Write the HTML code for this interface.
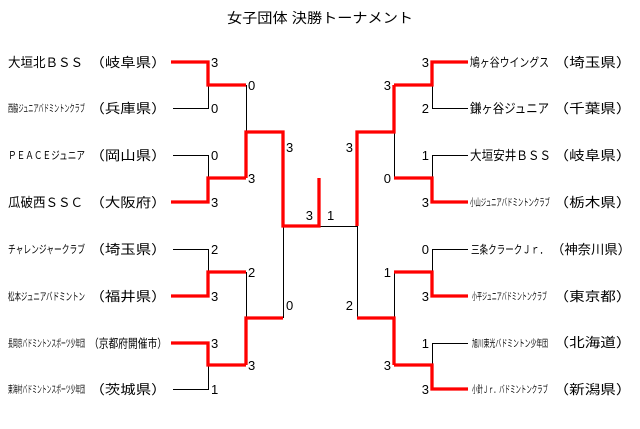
<!DOCTYPE html>
<html><head><meta charset="utf-8"><style>
html,body{margin:0;padding:0;background:#fff;}
svg{display:block;}
text{font-family:"Liberation Sans","Noto Sans CJK JP",sans-serif;fill:#000;}
.s{font-size:13px;}
</style></head><body>
<svg width="640" height="429" viewBox="0 0 640 429" xmlns="http://www.w3.org/2000/svg">
<text x="227" y="23" font-size="14" textLength="186" lengthAdjust="spacingAndGlyphs">女子団体 決勝トーナメント</text>

<!-- black lines -->
<g stroke="#000" stroke-width="1" fill="none">
<polyline points="173,108.5 208.5,108.5 208.5,85"/>
<polyline points="173,155.5 208.5,155.5 208.5,178"/>
<polyline points="246.5,85 246.5,132"/>
<polyline points="173,249.5 208.5,249.5 208.5,272"/>
<polyline points="173,389.5 208.5,389.5 208.5,365"/>
<polyline points="246.5,272 246.5,318"/>
<polyline points="283.5,226 283.5,318"/>
<polyline points="468,108.5 432.5,108.5 432.5,85"/>
<polyline points="468,155.5 432.5,155.5 432.5,178"/>
<polyline points="394.5,132 394.5,178"/>
<polyline points="468,249.5 432.5,249.5 432.5,272"/>
<polyline points="468,343.5 432.5,343.5 432.5,365"/>
<polyline points="394.5,272 394.5,318"/>
<polyline points="357.5,226 357.5,318"/>
<polyline points="319,226.5 357.5,226.5"/>
</g>

<!-- red lines -->
<g stroke="#ff0000" stroke-width="3.3" fill="none" stroke-linejoin="miter" stroke-linecap="butt">
<polyline points="171,62 208,62 208,85 246,85"/>
<polyline points="171,202 208,202 208,178 246,178"/>
<polyline points="246,178 246,132 283,132 283,226 319,226 319,178"/>
<polyline points="171,296 208,296 208,272 246,272"/>
<polyline points="171,343 208,343 208,365 246,365"/>
<polyline points="246,365 246,318 283,318"/>
<polyline points="468,62 432,62 432,85 394,85"/>
<polyline points="468,202 432,202 432,178 394,178"/>
<polyline points="394,85 394,132 357,132 357,226"/>
<polyline points="468,296 432,296 432,272 394,272"/>
<polyline points="468,389 432,389 432,365 394,365"/>
<polyline points="394,365 394,318 357,318"/>
</g>

<!-- left scores -->
<g class="s">
<text x="211" y="67">3</text>
<text x="211" y="113">0</text>
<text x="211" y="160">0</text>
<text x="211" y="207">3</text>
<text x="211" y="254">2</text>
<text x="211" y="301">3</text>
<text x="211" y="348">3</text>
<text x="211" y="394">1</text>
<text x="248" y="90">0</text>
<text x="248" y="183">3</text>
<text x="248" y="277">2</text>
<text x="248" y="370">3</text>
<text x="286" y="152">3</text>
<text x="286" y="310">0</text>
<text x="313" y="220" text-anchor="end">3</text>
<text x="327" y="220">1</text>
</g>
<!-- right scores -->
<g class="s" text-anchor="end">
<text x="429" y="67">3</text>
<text x="429" y="113">2</text>
<text x="429" y="160">1</text>
<text x="429" y="207">3</text>
<text x="429" y="254">0</text>
<text x="429" y="301">3</text>
<text x="429" y="348">1</text>
<text x="429" y="394">3</text>
<text x="391" y="90">3</text>
<text x="391" y="183">0</text>
<text x="391" y="277">1</text>
<text x="391" y="370">3</text>
<text x="353" y="152">3</text>
<text x="353" y="310">2</text>
</g>

<!-- left names -->
<text x="8" y="67" font-size="13" textLength="75" lengthAdjust="spacingAndGlyphs">大垣北ＢＳＳ</text>
<text x="8" y="112" font-size="10" textLength="77" lengthAdjust="spacingAndGlyphs">西脇ジュニアバドミントンクラブ</text>
<text x="8" y="159" font-size="11" textLength="77" lengthAdjust="spacingAndGlyphs">ＰＥＡＣＥジュニア</text>
<text x="8" y="207" font-size="13" textLength="75" lengthAdjust="spacingAndGlyphs">瓜破西ＳＳＣ</text>
<text x="8" y="253" font-size="11" textLength="77" lengthAdjust="spacingAndGlyphs">チャレンジャークラブ</text>
<text x="8" y="300" font-size="10.5" textLength="77" lengthAdjust="spacingAndGlyphs">松本ジュニアバドミントン</text>
<text x="8" y="347" font-size="10" textLength="77" lengthAdjust="spacingAndGlyphs">長岡京バドミントンスポーツ少年団</text>
<text x="8" y="393" font-size="10" textLength="77" lengthAdjust="spacingAndGlyphs">東海村バドミントンスポーツ少年団</text>

<g font-size="13">
<text x="89.5" y="67" textLength="77" lengthAdjust="spacingAndGlyphs">（岐阜県）</text>
<text x="89.5" y="113" textLength="77" lengthAdjust="spacingAndGlyphs">（兵庫県）</text>
<text x="89.5" y="160" textLength="77" lengthAdjust="spacingAndGlyphs">（岡山県）</text>
<text x="89.5" y="207" textLength="77" lengthAdjust="spacingAndGlyphs">（大阪府）</text>
<text x="89.5" y="254" textLength="77" lengthAdjust="spacingAndGlyphs">（埼玉県）</text>
<text x="89.5" y="301" textLength="77" lengthAdjust="spacingAndGlyphs">（福井県）</text>
<text x="89" y="347.5" font-size="12" textLength="78" lengthAdjust="spacingAndGlyphs">（京都府開催市）</text>
<text x="89.5" y="394" textLength="77" lengthAdjust="spacingAndGlyphs">（茨城県）</text>
</g>

<!-- right names -->
<text x="470" y="66.5" font-size="12" textLength="79" lengthAdjust="spacingAndGlyphs">鳩ヶ谷ウイングス</text>
<text x="470" y="113" font-size="13" textLength="79" lengthAdjust="spacingAndGlyphs">鎌ヶ谷ジュニア</text>
<text x="470" y="160" font-size="13" textLength="81" lengthAdjust="spacingAndGlyphs">大垣安井ＢＳＳ</text>
<text x="470" y="206" font-size="10" textLength="80" lengthAdjust="spacingAndGlyphs">小山ジュニアバドミントンクラブ</text>
<text x="471" y="253.5" font-size="11.5" textLength="77" lengthAdjust="spacingAndGlyphs">三条クラークＪｒ．</text>
<text x="472" y="300" font-size="10" textLength="75" lengthAdjust="spacingAndGlyphs">小平ジュニアバドミントンクラブ</text>
<text x="472" y="347" font-size="10" textLength="76" lengthAdjust="spacingAndGlyphs">旭川東光バドミントン少年団</text>
<text x="472" y="393" font-size="10" textLength="76" lengthAdjust="spacingAndGlyphs">小針Ｊｒ．バドミントンクラブ</text>

<g font-size="13">
<text x="553.5" y="67" textLength="78" lengthAdjust="spacingAndGlyphs">（埼玉県）</text>
<text x="553.5" y="113" textLength="78" lengthAdjust="spacingAndGlyphs">（千葉県）</text>
<text x="553.5" y="160" textLength="78" lengthAdjust="spacingAndGlyphs">（岐阜県）</text>
<text x="553.5" y="207" textLength="78" lengthAdjust="spacingAndGlyphs">（栃木県）</text>
<text x="551" y="254" textLength="80" lengthAdjust="spacingAndGlyphs">（神奈川県）</text>
<text x="553.5" y="301" textLength="78" lengthAdjust="spacingAndGlyphs">（東京都）</text>
<text x="553.5" y="347" textLength="78" lengthAdjust="spacingAndGlyphs">（北海道）</text>
<text x="553.5" y="394" textLength="78" lengthAdjust="spacingAndGlyphs">（新潟県）</text>
</g>
</svg>
</body></html>
